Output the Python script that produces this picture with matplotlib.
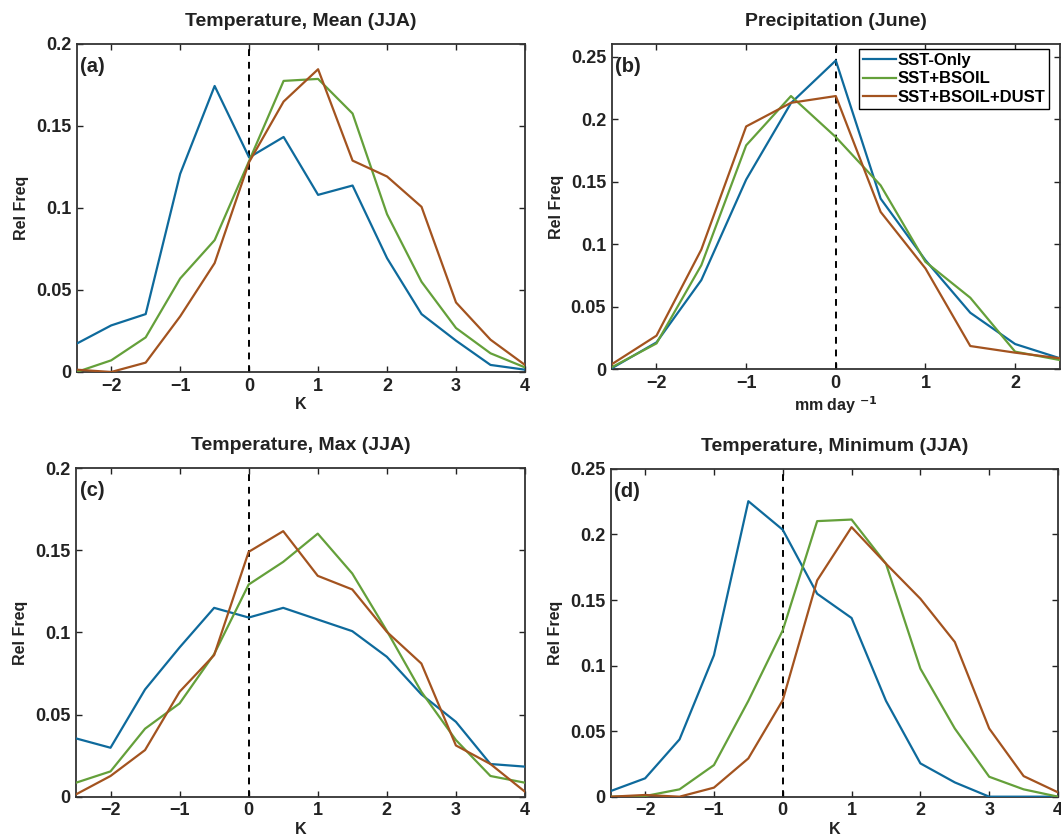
import matplotlib
matplotlib.use("Agg")
import matplotlib.pyplot as plt
import numpy as np

plt.rcParams['font.family'] = ['Liberation Sans', 'DejaVu Sans']
plt.rcParams['font.weight'] = 'bold'
plt.rcParams['mathtext.default'] = 'bf'

series_names = ["SST-Only", "SST+BSOIL", "SST+BSOIL+DUST"]
colors = ["#0E6A9C", "#64A03A", "#A3531F"]

# Panel (a): Temperature, Mean (JJA)
x_temp = [-2.5, -2, -1.5, -1, -0.5, 0, 0.5, 1, 1.5, 2, 2.5, 3, 3.5, 4]
a_sst = [0.0173, 0.0284, 0.0353, 0.1208, 0.1744, 0.1308, 0.1433, 0.1080, 0.1137, 0.0694, 0.0353, 0.0191, 0.0043, 0.0014]
a_bsoil = [0.0000, 0.0071, 0.0211, 0.0570, 0.0804, 0.1287, 0.1775, 0.1787, 0.1576, 0.0962, 0.0550, 0.0268, 0.0114, 0.0028]
a_dust = [0.0014, 0.0000, 0.0057, 0.0339, 0.0664, 0.1280, 0.1649, 0.1846, 0.1289, 0.1192, 0.1007, 0.0424, 0.0197, 0.0043]

# Panel (b): Precipitation (June)
x_prec = [-2.5, -2, -1.5, -1, -0.5, 0, 0.5, 1, 1.5, 2, 2.5]
b_sst = [0.0008, 0.0215, 0.0713, 0.1516, 0.2128, 0.2468, 0.1364, 0.0872, 0.0452, 0.0202, 0.0088]
b_bsoil = [0.0016, 0.0207, 0.0832, 0.1790, 0.2184, 0.1856, 0.1470, 0.0859, 0.0572, 0.0141, 0.0074]
b_dust = [0.0040, 0.0269, 0.0957, 0.1941, 0.2130, 0.2184, 0.1258, 0.0806, 0.0186, 0.0133, 0.0088]

# Panel (c): Temperature, Max (JJA)
c_sst = [0.0355, 0.0298, 0.0653, 0.0909, 0.1150, 0.1091, 0.1150, 0.1079, 0.1008, 0.0852, 0.0623, 0.0456, 0.0199, 0.0183]
c_bsoil = [0.0085, 0.0154, 0.0414, 0.0568, 0.0868, 0.1292, 0.1430, 0.1602, 0.1359, 0.1010, 0.0639, 0.0345, 0.0126, 0.0085]
c_dust = [0.0014, 0.0126, 0.0284, 0.0639, 0.0862, 0.1491, 0.1617, 0.1345, 0.1262, 0.1004, 0.0811, 0.0312, 0.0199, 0.0030]

# Panel (d): Temperature, Minimum (JJA)
d_sst = [0.0043, 0.0140, 0.0437, 0.1079, 0.2254, 0.2036, 0.1548, 0.1363, 0.0731, 0.0254, 0.0109, 0.0, 0.0, 0.0]
d_bsoil = [0.0, 0.0005, 0.0056, 0.0241, 0.0731, 0.1269, 0.2102, 0.2114, 0.1777, 0.0977, 0.0520, 0.0152, 0.0056, 0.0]
d_dust = [0.0, 0.0013, 0.0, 0.0069, 0.0292, 0.0736, 0.1650, 0.2056, 0.1777, 0.1510, 0.1180, 0.0520, 0.0157, 0.0033]

panels = [
    dict(title="Temperature, Mean (JJA)", label="(a)", x=x_temp, ys=[a_sst, a_bsoil, a_dust],
         xlim=(-2.5, 4), ylim=(0, 0.2), yticks=[0, 0.05, 0.1, 0.15, 0.2],
         yticklabels=["0", "0.05", "0.1", "0.15", "0.2"], xlabel="K",
         rect=[0.0723, 0.5561, 0.4225, 0.3914]),
    dict(title="Precipitation (June)", label="(b)", x=x_prec, ys=[b_sst, b_bsoil, b_dust],
         xlim=(-2.5, 2.5), ylim=(0, 0.26), yticks=[0, 0.05, 0.1, 0.15, 0.2, 0.25],
         yticklabels=["0", "0.05", "0.1", "0.15", "0.2", "0.25"], xlabel="mm day $^{-1}$",
         rect=[0.5765, 0.5593, 0.4225, 0.3882]),
    dict(title="Temperature, Max (JJA)", label="(c)", x=x_temp, ys=[c_sst, c_bsoil, c_dust],
         xlim=(-2.5, 4), ylim=(0, 0.2), yticks=[0, 0.05, 0.1, 0.15, 0.2],
         yticklabels=["0", "0.05", "0.1", "0.15", "0.2"], xlabel="K",
         rect=[0.0716, 0.0493, 0.4232, 0.3919]),
    dict(title="Temperature, Minimum (JJA)", label="(d)", x=x_temp, ys=[d_sst, d_bsoil, d_dust],
         xlim=(-2.5, 4), ylim=(0, 0.25), yticks=[0, 0.05, 0.1, 0.15, 0.2, 0.25],
         yticklabels=["0", "0.05", "0.1", "0.15", "0.2", "0.25"], xlabel="K",
         rect=[0.5756, 0.0493, 0.4216, 0.3911]),
]

fig = plt.figure(figsize=(10.61, 8.38), dpi=100)

for i, p in enumerate(panels):
    ax = fig.add_axes(p["rect"])
    for y, c, n in zip(p["ys"], colors, series_names):
        ax.plot(p["x"], y, color=c, lw=1.6, label=n, zorder=3)
    ax.axvline(0, color="black", ls=(0, (3.5, 3)), lw=1.4, zorder=2)
    ax.set_xlim(*p["xlim"])
    ax.set_ylim(*p["ylim"])
    ax.set_yticks(p["yticks"])
    ax.set_yticklabels(p["yticklabels"])
    xt = np.arange(-2, p["xlim"][1] + 0.01, 1)
    ax.set_xticks(xt)
    ax.set_xticklabels([("\u22122" if v == -2 else "\u22121" if v == -1 else str(int(v))) for v in xt])
    ax.tick_params(direction="in", top=True, right=True, length=4, width=1,
                   labelsize=13, pad=4, colors="#222222")
    for lab in ax.get_xticklabels() + ax.get_yticklabels():
        lab.set_fontweight("bold")
    for s in ax.spines.values():
        s.set_linewidth(1.3)
        s.set_color("#333333")
    ax.set_title(p["title"], fontsize=14, fontweight="bold", pad=13, color="#222222")
    ax.set_xlabel(p["xlabel"], fontsize=11.5, fontweight="bold", labelpad=2, color="#222222")
    ax.set_ylabel("Rel Freq", fontsize=11.5, fontweight="bold", labelpad=5, color="#222222")
    ax.text(0.008, 0.96, p["label"], transform=ax.transAxes, fontsize=14.5,
            fontweight="bold", va="top", ha="left", color="#222222")
    if i == 1:
        leg = ax.legend(loc="upper right", bbox_to_anchor=(0.9755, 0.985), fontsize=12,
                        handlelength=2.0, handletextpad=0.05, borderpad=0.25,
                        labelspacing=0.2, fancybox=False, framealpha=1, borderaxespad=0)
        leg.get_frame().set_edgecolor("black")
        leg.get_frame().set_linewidth(1.0)
        for t in leg.get_texts():
            t.set_fontweight("bold")

fig.savefig("out.png", dpi=100)
